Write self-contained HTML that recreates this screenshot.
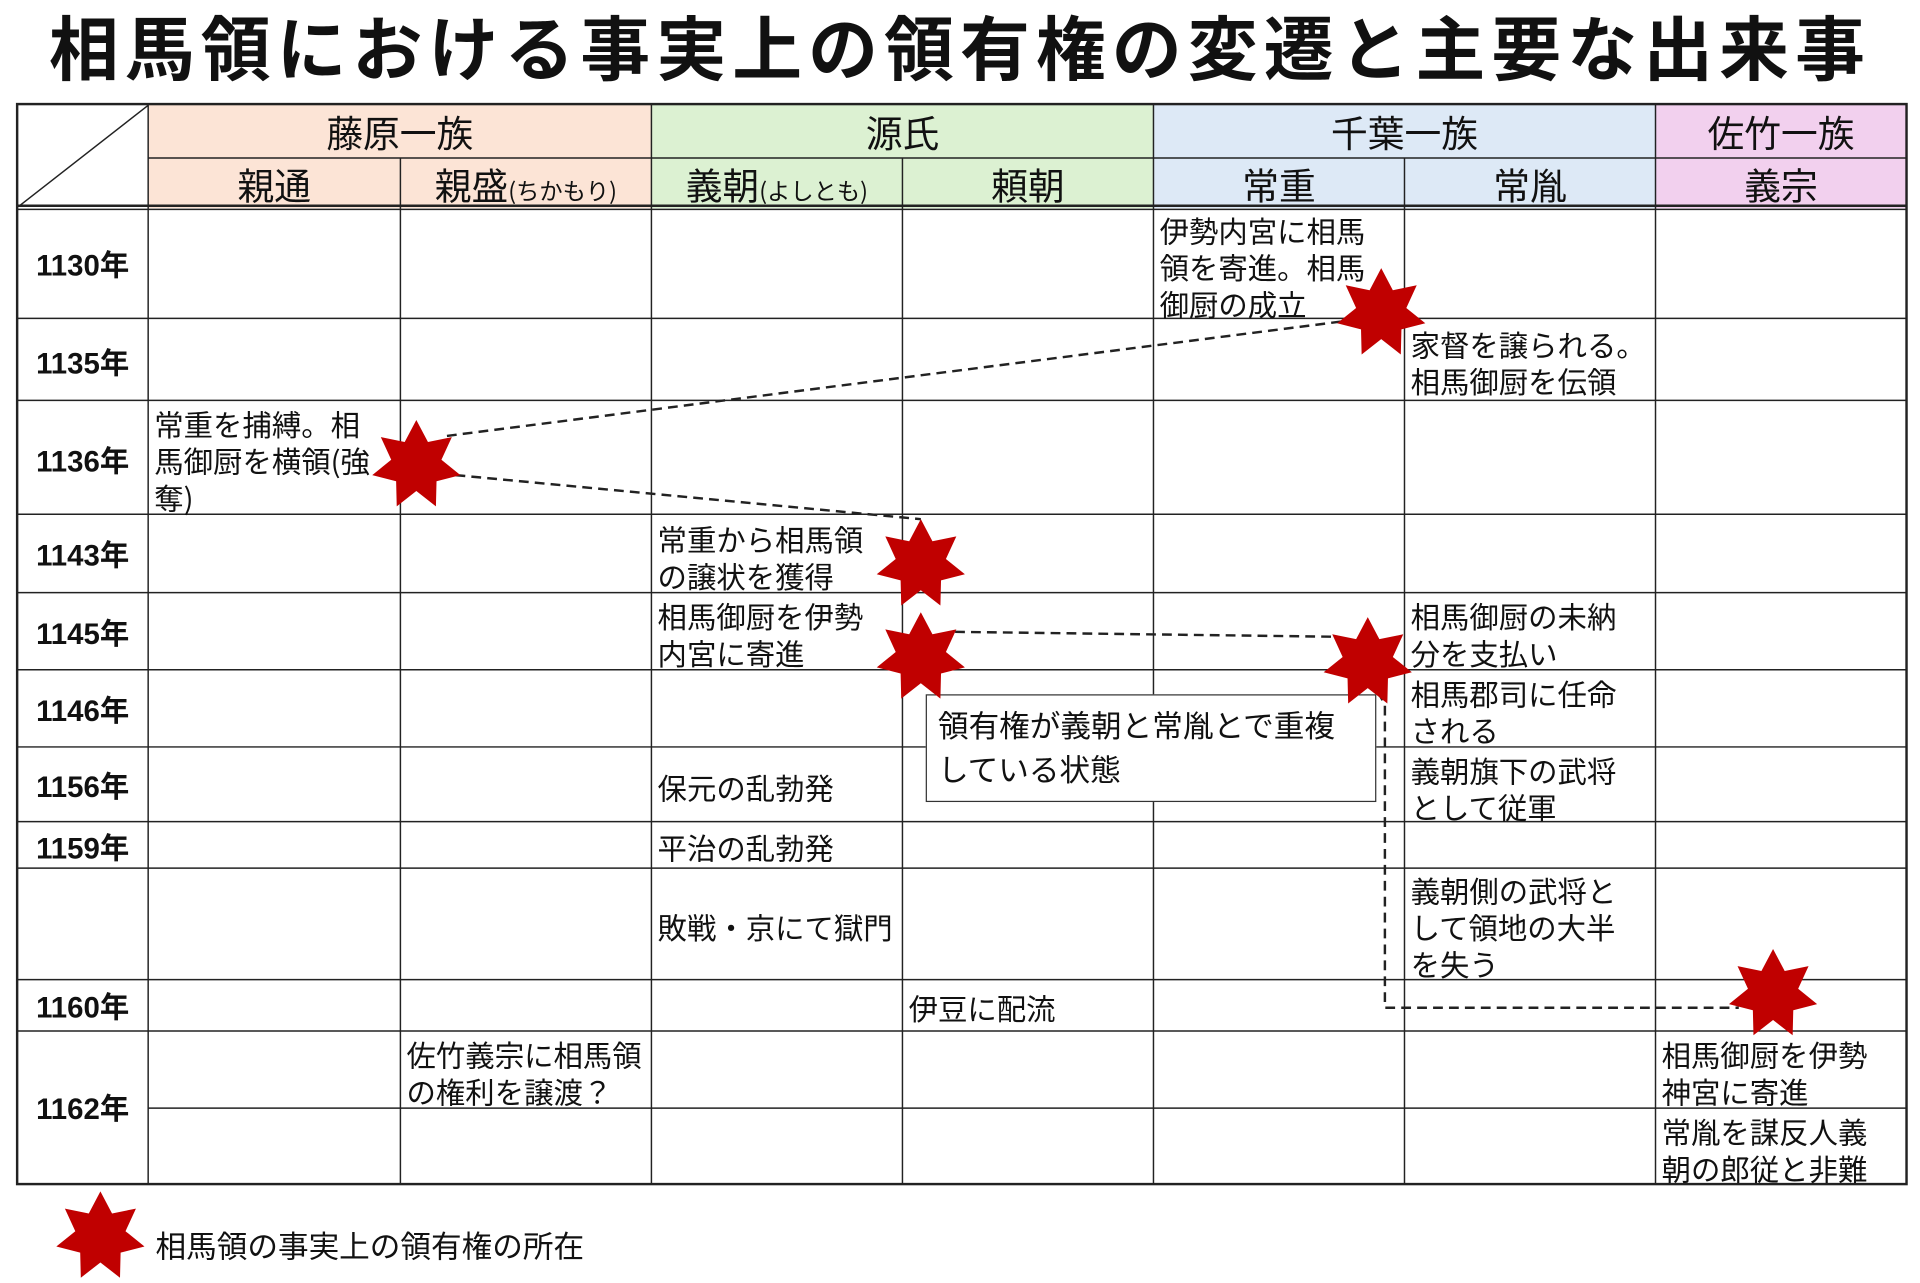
<!DOCTYPE html>
<html><head><meta charset="utf-8"><style>
html,body{margin:0;padding:0;background:#fff;}
body{width:1920px;height:1283px;overflow:hidden;position:relative;}
#w{position:absolute;left:0;top:0;width:1568px;height:1048px;transform:scale(1.22449);transform-origin:0 0;font-family:"Liberation Sans","Noto Sans CJK JP",sans-serif;color:#111;}
.a{position:absolute;}
.t{position:absolute;font-size:24px;line-height:30px;white-space:nowrap;font-family:"Noto Sans CJK JP",sans-serif;}
.y{position:absolute;left:14px;width:107px;text-align:center;font-weight:bold;font-size:24px;font-family:"Liberation Sans","Noto Sans CJK JP",sans-serif;}
.h{position:absolute;text-align:center;font-size:30px;line-height:36px;font-family:"Noto Sans CJK JP",sans-serif;}
</style></head><body><div id="w">
<div class="a" style="left:0;top:0;width:1568px;text-align:center;font-size:57px;font-weight:bold;line-height:74px;letter-spacing:5px;font-family:'Noto Sans CJK JP',sans-serif;">相馬領における事実上の領有権の変遷と主要な出来事</div>
<div class="a" style="left:121px;top:85px;width:411px;height:85px;background:#fce4d6"></div>
<div class="a" style="left:532px;top:85px;width:410px;height:85px;background:#dcf1d2"></div>
<div class="a" style="left:942px;top:85px;width:410px;height:85px;background:#dde9f6"></div>
<div class="a" style="left:1352px;top:85px;width:205px;height:85px;background:#f2d0ee"></div>
<svg class="a" style="left:0;top:0" width="1568" height="1048">
<g stroke="#222" stroke-width="1.2" fill="none">
<line x1="121" y1="129" x2="1557" y2="129"/>
<line x1="14" y1="168" x2="1557" y2="168" stroke-width="2"/>
<line x1="14" y1="171" x2="1557" y2="171"/>
<line x1="14" y1="260" x2="1557" y2="260"/>
<line x1="14" y1="327" x2="1557" y2="327"/>
<line x1="14" y1="420" x2="1557" y2="420"/>
<line x1="14" y1="484" x2="1557" y2="484"/>
<line x1="14" y1="547" x2="1557" y2="547"/>
<line x1="14" y1="610" x2="1557" y2="610"/>
<line x1="14" y1="671" x2="1557" y2="671"/>
<line x1="14" y1="709" x2="1557" y2="709"/>
<line x1="14" y1="800" x2="1557" y2="800"/>
<line x1="14" y1="842" x2="1557" y2="842"/>
<line x1="121" y1="905" x2="1557" y2="905"/>
<line x1="121" y1="85" x2="121" y2="967"/>
<line x1="327" y1="129" x2="327" y2="967"/>
<line x1="532" y1="85" x2="532" y2="967"/>
<line x1="737" y1="129" x2="737" y2="967"/>
<line x1="942" y1="85" x2="942" y2="967"/>
<line x1="1147" y1="129" x2="1147" y2="967"/>
<line x1="1352" y1="85" x2="1352" y2="967"/>
<line x1="121" y1="86" x2="16" y2="168"/>
<rect x="14" y="85" width="1543" height="882" stroke-width="2"/>
</g>
<g stroke="#222" stroke-width="2" stroke-dasharray="8,5" fill="none">
<line x1="365" y1="356" x2="1100" y2="262"/>
<line x1="372" y1="388" x2="752" y2="424"/>
<line x1="780" y1="516" x2="1090" y2="520"/>
<polyline points="1125,565 1131,575 1131,823 1420,823"/>
</g>
</svg>
<div class="h" style="left:121px;top:89px;width:411px;">藤原一族</div>
<div class="h" style="left:532px;top:89px;width:410px;">源氏</div>
<div class="h" style="left:942px;top:89px;width:410px;">千葉一族</div>
<div class="h" style="left:1352px;top:89px;width:205px;">佐竹一族</div>
<div class="h" style="left:121px;top:132px;width:206px;">親通</div>
<div class="h" style="left:327px;top:132px;width:205px;">親盛<span style="font-size:19px">(ちかもり)</span></div>
<div class="h" style="left:532px;top:132px;width:205px;">義朝<span style="font-size:19px">(よしとも)</span></div>
<div class="h" style="left:737px;top:132px;width:205px;">頼朝</div>
<div class="h" style="left:942px;top:132px;width:205px;">常重</div>
<div class="h" style="left:1147px;top:132px;width:205px;">常胤</div>
<div class="h" style="left:1352px;top:132px;width:205px;">義宗</div>
<div class="y" style="top:197px">1130年</div>
<div class="y" style="top:277px">1135年</div>
<div class="y" style="top:357px">1136年</div>
<div class="y" style="top:434px">1143年</div>
<div class="y" style="top:498px">1145年</div>
<div class="y" style="top:561px">1146年</div>
<div class="y" style="top:623px">1156年</div>
<div class="y" style="top:673px">1159年</div>
<div class="y" style="top:803px">1160年</div>
<div class="y" style="top:886px">1162年</div>
<div class="t" style="left:947px;top:173px">伊勢内宮に相馬<br>領を寄進。相馬<br>御厨の成立</div>
<div class="t" style="left:1152px;top:266px">家督を譲られる。<br>相馬御厨を伝領</div>
<div class="t" style="left:126px;top:331px">常重を捕縛。相<br>馬御厨を横領(強<br>奪)</div>
<div class="t" style="left:537px;top:425px">常重から相馬領<br>の譲状を獲得</div>
<div class="t" style="left:537px;top:488px">相馬御厨を伊勢<br>内宮に寄進</div>
<div class="t" style="left:537px;top:628px">保元の乱勃発</div>
<div class="t" style="left:537px;top:677px">平治の乱勃発</div>
<div class="t" style="left:537px;top:742px">敗戦・京にて獄門</div>
<div class="t" style="left:1152px;top:488px">相馬御厨の未納<br>分を支払い</div>
<div class="t" style="left:1152px;top:551px">相馬郡司に任命<br>される</div>
<div class="t" style="left:1152px;top:614px">義朝旗下の武将<br>として従軍</div>
<div class="t" style="left:1152px;top:712px">義朝側の武将と<br>して領地の大半<br>を失う</div>
<div class="t" style="left:742px;top:808px">伊豆に配流</div>
<div class="t" style="left:332px;top:846px">佐竹義宗に相馬領<br>の権利を譲渡？</div>
<div class="t" style="left:1357px;top:846px">相馬御厨を伊勢<br>神宮に寄進</div>
<div class="t" style="left:1357px;top:909px">常胤を謀反人義<br>朝の郎従と非難</div>
<div class="a" style="left:756px;top:567px;width:366px;height:86px;border:1.5px solid #333;background:#fff;"></div>
<div class="t" style="left:766px;top:574px;font-size:25px;line-height:36px">領有権が義朝と常胤とで重複<br>している状態</div>
<svg class="a" style="left:0;top:0" width="1568" height="1048">
<defs><polygon id="s" points="0,-37 9.5,-19 29,-23 20.5,-4.5 36,8 16.5,13 16,33.5 0,21 -16,33.5 -16.5,13 -36,8 -20.5,-4.5 -29,-23 -9.5,-19" fill="#c00000"/></defs>
<use href="#s" x="1128" y="256"/>
<use href="#s" x="340" y="380"/>
<use href="#s" x="752" y="461"/>
<use href="#s" x="752" y="537"/>
<use href="#s" x="1117" y="541"/>
<use href="#s" x="1448" y="812"/>
<use href="#s" x="82" y="1010"/>
</svg>
<div class="t" style="left:127px;top:1002px;font-size:25px">相馬領の事実上の領有権の所在</div>
</div></body></html>
